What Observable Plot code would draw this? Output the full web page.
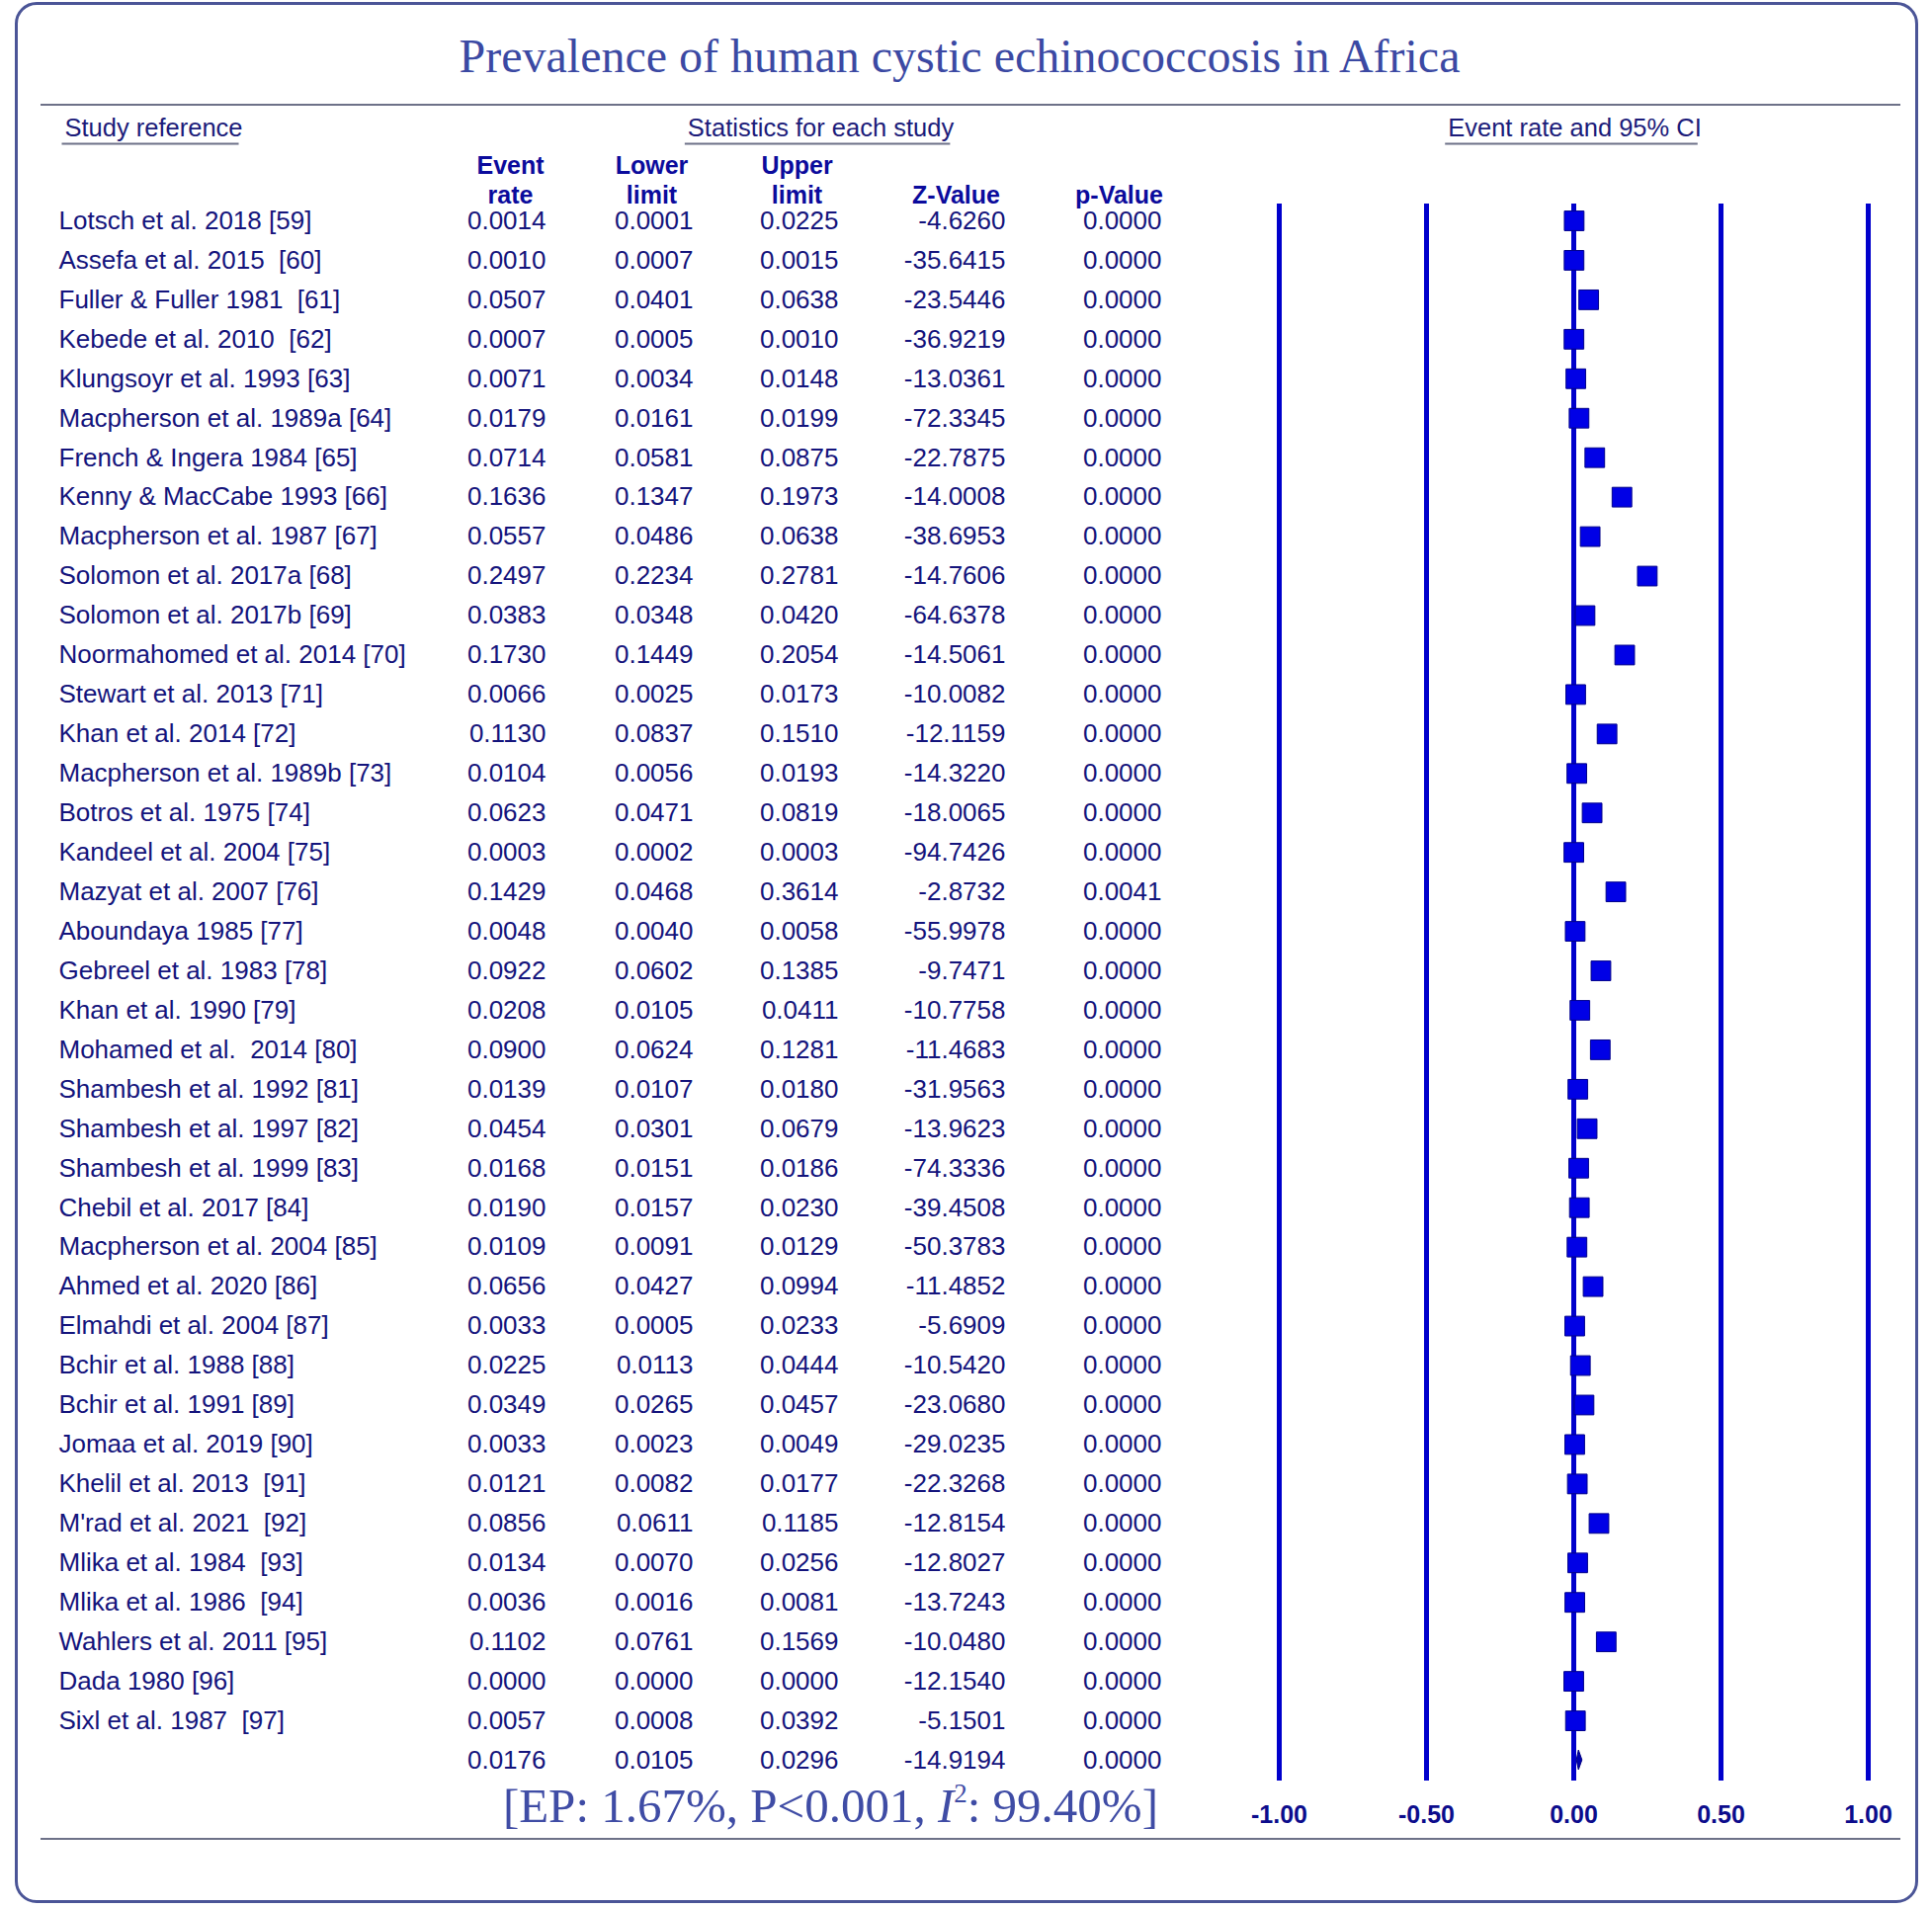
<!DOCTYPE html>
<html><head><meta charset="utf-8">
<script src="https://cdn.jsdelivr.net/npm/d3@7"></script>
<script src="https://cdn.jsdelivr.net/npm/@observablehq/plot@0.6"></script>
<style>
html,body{margin:0;padding:0;background:#fff;}
#wrap{position:relative;width:1955px;height:1932px;overflow:hidden;background:#fff;}
#frame{position:absolute;left:15px;top:2px;width:1926px;height:1924px;box-sizing:border-box;border:3px solid #4b5597;border-radius:22px;}
#title{position:absolute;left:0;top:33px;width:1942px;text-align:center;font-family:"Liberation Serif","Times New Roman",serif;font-size:48px;line-height:48px;color:#3b49a3;white-space:nowrap;}
.hr{position:absolute;left:41px;width:1882px;height:2px;background:#6d7188;}
#ep{position:absolute;right:783px;top:1803px;font-family:"Liberation Serif","Times New Roman",serif;font-size:49px;line-height:49px;color:#3f4ca5;white-space:nowrap;z-index:2;}
#ep sup{font-size:0.55em;vertical-align:0.75em;line-height:0;}
#chart{position:absolute;left:0;top:110px;}
#chart svg text{white-space:pre;}
</style></head>
<body>
<div id="wrap">
  <div id="frame"></div>
  <div id="title"></div>
  <div class="hr" style="top:105px"></div>
  <div id="chart"></div>
  <div id="ep"></div>
  <div class="hr" style="top:1860px"></div>
</div>
<script>
// ---------------- data ----------------
const chartTitle = "Prevalence of human cystic echinococcosis in Africa";
const studies = [
  "Lotsch et al. 2018 [59]", "Assefa et al. 2015  [60]", "Fuller & Fuller 1981  [61]", "Kebede et al. 2010  [62]",
  "Klungsoyr et al. 1993 [63]", "Macpherson et al. 1989a [64]", "French & Ingera 1984 [65]", "Kenny & MacCabe 1993 [66]",
  "Macpherson et al. 1987 [67]", "Solomon et al. 2017a [68]", "Solomon et al. 2017b [69]", "Noormahomed et al. 2014 [70]",
  "Stewart et al. 2013 [71]", "Khan et al. 2014 [72]", "Macpherson et al. 1989b [73]", "Botros et al. 1975 [74]",
  "Kandeel et al. 2004 [75]", "Mazyat et al. 2007 [76]", "Aboundaya 1985 [77]", "Gebreel et al. 1983 [78]",
  "Khan et al. 1990 [79]", "Mohamed et al.  2014 [80]", "Shambesh et al. 1992 [81]", "Shambesh et al. 1997 [82]",
  "Shambesh et al. 1999 [83]", "Chebil et al. 2017 [84]", "Macpherson et al. 2004 [85]", "Ahmed et al. 2020 [86]",
  "Elmahdi et al. 2004 [87]", "Bchir et al. 1988 [88]", "Bchir et al. 1991 [89]", "Jomaa et al. 2019 [90]",
  "Khelil et al. 2013  [91]", "M'rad et al. 2021  [92]", "Mlika et al. 1984  [93]", "Mlika et al. 1986  [94]",
  "Wahlers et al. 2011 [95]", "Dada 1980 [96]", "Sixl et al. 1987  [97]"
];
const eventRate = [0.0014,0.0010,0.0507,0.0007,0.0071,0.0179,0.0714,0.1636,0.0557,0.2497,0.0383,0.1730,0.0066,0.1130,0.0104,0.0623,0.0003,0.1429,0.0048,0.0922,0.0208,0.0900,0.0139,0.0454,0.0168,0.0190,0.0109,0.0656,0.0033,0.0225,0.0349,0.0033,0.0121,0.0856,0.0134,0.0036,0.1102,0.0000,0.0057];
const lowerLimit = [0.0001,0.0007,0.0401,0.0005,0.0034,0.0161,0.0581,0.1347,0.0486,0.2234,0.0348,0.1449,0.0025,0.0837,0.0056,0.0471,0.0002,0.0468,0.0040,0.0602,0.0105,0.0624,0.0107,0.0301,0.0151,0.0157,0.0091,0.0427,0.0005,0.0113,0.0265,0.0023,0.0082,0.0611,0.0070,0.0016,0.0761,0.0000,0.0008];
const upperLimit = [0.0225,0.0015,0.0638,0.0010,0.0148,0.0199,0.0875,0.1973,0.0638,0.2781,0.0420,0.2054,0.0173,0.1510,0.0193,0.0819,0.0003,0.3614,0.0058,0.1385,0.0411,0.1281,0.0180,0.0679,0.0186,0.0230,0.0129,0.0994,0.0233,0.0444,0.0457,0.0049,0.0177,0.1185,0.0256,0.0081,0.1569,0.0000,0.0392];
const zValue = [-4.6260,-35.6415,-23.5446,-36.9219,-13.0361,-72.3345,-22.7875,-14.0008,-38.6953,-14.7606,-64.6378,-14.5061,-10.0082,-12.1159,-14.3220,-18.0065,-94.7426,-2.8732,-55.9978,-9.7471,-10.7758,-11.4683,-31.9563,-13.9623,-74.3336,-39.4508,-50.3783,-11.4852,-5.6909,-10.5420,-23.0680,-29.0235,-22.3268,-12.8154,-12.8027,-13.7243,-10.0480,-12.1540,-5.1501];
const pValue = [0.0000,0.0000,0.0000,0.0000,0.0000,0.0000,0.0000,0.0000,0.0000,0.0000,0.0000,0.0000,0.0000,0.0000,0.0000,0.0000,0.0000,0.0041,0.0000,0.0000,0.0000,0.0000,0.0000,0.0000,0.0000,0.0000,0.0000,0.0000,0.0000,0.0000,0.0000,0.0000,0.0000,0.0000,0.0000,0.0000,0.0000,0.0000,0.0000];
const pooled = {event: 0.0176, lower: 0.0105, upper: 0.0296, z: -14.9194, p: 0.0000};
const pooledNote = {ep: "1.67%", p: "P<0.001", i2: "99.40%"};
const axisTicks = [-1, -0.5, 0, 0.5, 1];
const sectionHeaders = ["Study reference", "Statistics for each study", "Event rate and 95% CI"];
const columnHeaders = ["Event\nrate", "Lower\nlimit", "Upper\nlimit", "Z-Value", "p-Value"];
const columnKeys = ["event", "lower", "upper", "z", "p"];

// ---------------- layout ----------------
const SANS = "'Liberation Sans', Arial, Helvetica, sans-serif";
const W = 1955, H = 1822;
const ML = 1294, MR = 65, MT = 96, MB = 130;
const colRight = [552, 701, 848, 1017, 1175];
const colCenter = [516, 659, 806, 967, 1132];
const sectionX = [65, 830, 1593];
const sectionAnchor = ["start", "middle", "middle"];
const TXT = "#14147c", HEAD = "#0b0b9c", BLUE = "#0000cc";

document.getElementById("title").textContent = chartTitle;
document.getElementById("ep").innerHTML =
  `[EP: ${pooledNote.ep}, ${pooledNote.p.replace("<", "&lt;")}, <i>I</i><sup>2</sup>: ${pooledNote.i2}]`;

const rows = studies.map((s, i) => ({
  i, study: s, event: eventRate[i], lower: lowerLimit[i], upper: upperLimit[i], z: zValue[i], p: pValue[i]
}));
const studyRows = rows.slice();
const pooledRow = {i: studies.length, study: "", ...pooled};
rows.push(pooledRow);

const txt = {fontFamily: SANS, fontSize: 26, fill: TXT};

const diamond = (index, scales) => {
  const x = scales.x, y = scales.y;
  const cy = y(pooledRow.i), h = 10;
  const p = d3.create("svg:path")
    .attr("d", `M${x(pooledRow.lower)},${cy}L${x(pooledRow.event)},${cy - h}L${x(pooledRow.upper)},${cy}L${x(pooledRow.event)},${cy + h}Z`)
    .attr("fill", "#0000b0").attr("stroke", "#000080").attr("stroke-width", 1);
  return p.node();
};

const plot = Plot.plot({
  width: W, height: H,
  marginLeft: ML, marginRight: MR, marginTop: MT, marginBottom: MB,
  style: {background: "transparent", overflow: "visible"},
  x: {domain: [-1, 1], axis: null},
  y: {type: "point", domain: d3.range(rows.length), range: [113, 1671], padding: 0, axis: null},
  marks: [
    Plot.ruleX(axisTicks, {x: d => d, stroke: BLUE, strokeWidth: 5}),
    Plot.dot(studyRows, {x: "event", y: "i", symbol: "square", r: 11.2, fill: "#0000e6", stroke: "#00008a", strokeWidth: 1}),
    diamond,
    Plot.text(studyRows, {y: "i", text: "study", frameAnchor: "left", dx: 59 - ML, textAnchor: "start", ...txt}),
    ...columnKeys.map((k, j) => Plot.text(rows, {
      y: "i", text: d => d[k].toFixed(4), frameAnchor: "left", dx: colRight[j] - ML, textAnchor: "end", ...txt
    })),
    ...columnHeaders.map((h, j) => Plot.text([h], {
      text: d => d, frameAnchor: "top-left", dx: colCenter[j] - ML, dy: -1,
      lineAnchor: "bottom", lineHeight: 1.18, textAnchor: "middle",
      fontFamily: SANS, fontSize: 25, fontWeight: "bold", fill: HEAD
    })),
    ...sectionHeaders.map((h, j) => Plot.text([h], {
      text: d => d, frameAnchor: "top-left", dx: sectionX[j] - ML, dy: -87,
      textAnchor: sectionAnchor[j], className: "sect", fontFamily: SANS, fontSize: 25.5, fill: "#1c1c7a"
    })),
    Plot.text(axisTicks, {
      x: d => d, text: d => d.toFixed(2), frameAnchor: "bottom", dy: 42,
      fontFamily: SANS, fontSize: 25, fontWeight: "bold", fill: "#0c0c8c"
    })
  ]
});
document.getElementById("chart").appendChild(plot);

// underline the section headers
const svgRect = plot.getBoundingClientRect();
plot.querySelectorAll("[class*='sect'] text").forEach(t => {
  const b = t.getBoundingClientRect();
  const y = b.bottom - svgRect.top + 3;
  d3.select(plot).append("line")
    .attr("x1", b.left - svgRect.left - 3).attr("x2", b.right - svgRect.left - 4)
    .attr("y1", y).attr("y2", y)
    .attr("stroke", "#6d7188").attr("stroke-width", 2);
});
</script>
</body></html>
